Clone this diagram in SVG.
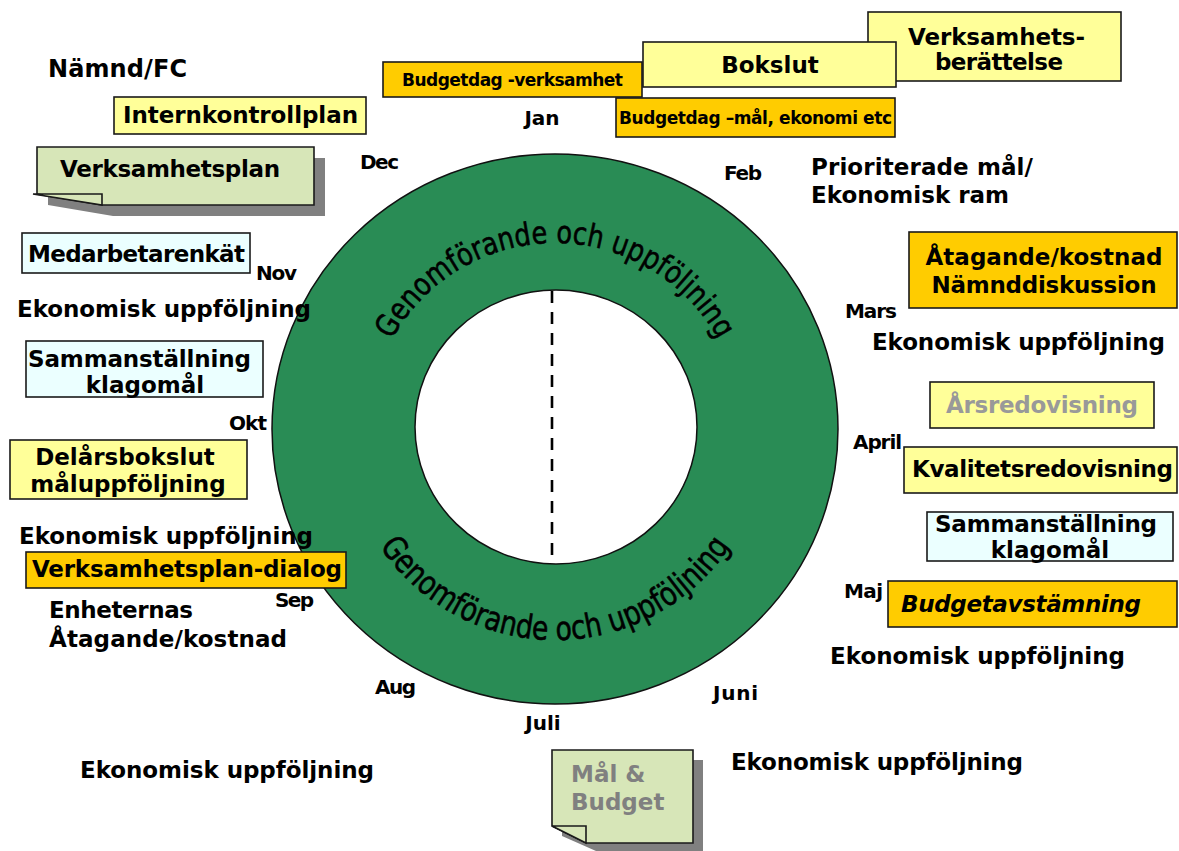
<svg xmlns="http://www.w3.org/2000/svg" xmlns:xlink="http://www.w3.org/1999/xlink" width="1179" height="851" viewBox="0 0 1179 851">
<style>
.t{font-family:"DejaVu Sans",Verdana,"Liberation Sans",sans-serif;font-weight:bold;fill:#000}
.lg{font-size:23px}
.mo{font-size:20px}
.sm{font-size:17px}
.gr{fill:#999999}
.gy{fill:#808080}
.it{font-style:italic}
.or{fill:#FFCC00;stroke:#1a1a1a;stroke-width:1.6}
.ye{fill:#FFFF99;stroke:#1a1a1a;stroke-width:1.6}
.cy{fill:#EBFFFF;stroke:#1a1a1a;stroke-width:1.6}
.gn{fill:#D7E6B8;stroke:#1a1a1a;stroke-width:1.6}
.sh{fill:#808080}
.ring{font-family:"DejaVu Sans",Verdana,sans-serif;font-weight:normal;fill:#000;stroke:#000;stroke-width:0.6}
</style>
<defs>
<path id="arcTop" d="M 369,429 A 186 186 0 0 1 741,429"/>
<path id="arcBot" d="M 344,429 A 211 211 0 0 0 766,429"/>
</defs>
<rect width="1179" height="851" fill="#fff"/>

<g id="ring">
<ellipse cx="555" cy="429" rx="283" ry="275" fill="#298C55" stroke="#111" stroke-width="1.5"/>
<ellipse cx="556" cy="427" rx="141" ry="137" fill="#fff" stroke="#111" stroke-width="1.5"/>
<text class="ring" font-size="31"><textPath xlink:href="#arcTop" startOffset="50%" text-anchor="middle" textLength="398" lengthAdjust="spacingAndGlyphs">Genomförande och uppföljning</textPath></text>
<text class="ring" font-size="33"><textPath xlink:href="#arcBot" startOffset="50%" text-anchor="middle" textLength="414" lengthAdjust="spacingAndGlyphs">Genomförande och uppföljning</textPath></text>
</g>
<g id="connectors">
<line x1="552" y1="291" x2="552" y2="563" stroke="#000" stroke-width="2.6" stroke-dasharray="12 9"/>
</g>

<g id="months" class="t mo">
<text x="542" y="125" text-anchor="middle">Jan</text>
<text x="724" y="180" textLength="38">Feb</text>
<text x="845" y="318" textLength="52">Mars</text>
<text x="853" y="449" textLength="49">April</text>
<text x="844" y="598" textLength="39">Maj</text>
<text x="713" y="700" textLength="45">Juni</text>
<text x="543" y="730" text-anchor="middle">Juli</text>
<text x="375" y="694" textLength="41">Aug</text>
<text x="275" y="607" textLength="39">Sep</text>
<text x="229" y="430" textLength="38">Okt</text>
<text x="256" y="280" textLength="41">Nov</text>
<text x="360" y="169" textLength="39">Dec</text>
</g>

<g id="namnd"><text class="t" font-size="24" x="48" y="77" textLength="139">Nämnd/FC</text></g>

<g id="verksamhetsberattelse">
<rect class="ye" x="868" y="12" width="253" height="69"/>
<text class="t lg" x="908" y="45" textLength="177">Verksamhets-</text>
<text class="t lg" x="935" y="70" textLength="128">berättelse</text>
</g>
<g id="budgetdag-verksamhet">
<rect class="or" x="383" y="62" width="259" height="35"/>
<text class="t sm" x="402" y="86" textLength="221">Budgetdag -verksamhet</text>
</g>
<g id="bokslut">
<rect class="ye" x="643" y="42" width="253" height="45"/>
<text class="t lg" x="770" y="73" text-anchor="middle">Bokslut</text>
</g>
<g id="budgetdag-mal">
<rect class="or" x="616" y="98" width="279" height="39"/>
<text class="t sm" x="619" y="124" textLength="273">Budgetdag –mål, ekonomi etc</text>
</g>

<g id="internkontrollplan">
<rect class="ye" x="114" y="97" width="252" height="37"/>
<text class="t lg" x="123" y="123" textLength="235">Internkontrollplan</text>
</g>

<g id="verksamhetsplan">
<path class="sh" d="M48,158 H325 V216 H113 L48,205 Z"/>
<path class="gn" d="M37,147 H314 V205 H102 L37,194 Z"/>
<path class="gn" d="M33,194 H102 V205 Z"/>
<text class="t lg" x="60" y="177" textLength="220">Verksamhetsplan</text>
</g>

<g id="prioriterade">
<text class="t lg" x="811" y="175" textLength="222">Prioriterade mål/</text>
<text class="t lg" x="811" y="203">Ekonomisk ram</text>
</g>

<g id="medarbetarenkat">
<rect class="cy" x="22" y="233" width="228" height="40"/>
<text class="t lg" x="28" y="262" textLength="217">Medarbetarenkät</text>
</g>

<g id="ekon-nov"><text class="t lg" x="17" y="317" textLength="294">Ekonomisk uppföljning</text></g>

<g id="sammanstallning-vanster">
<rect class="cy" x="26" y="341" width="237" height="56"/>
<text class="t lg" x="28" y="367" textLength="223">Sammanställning</text>
<text class="t lg" x="145" y="393" text-anchor="middle">klagomål</text>
</g>

<g id="delarsbokslut">
<rect class="ye" x="10" y="440" width="237" height="59"/>
<text class="t lg" x="125" y="465" text-anchor="middle">Delårsbokslut</text>
<text class="t lg" x="128" y="492" text-anchor="middle">måluppföljning</text>
</g>

<g id="ekon-sep"><text class="t lg" x="19" y="544" textLength="294">Ekonomisk uppföljning</text></g>

<g id="vp-dialog">
<rect class="or" x="26" y="552" width="320" height="36"/>
<text class="t lg" x="32" y="577" textLength="310">Verksamhetsplan-dialog</text>
</g>

<g id="enheternas">
<text class="t lg" x="49" y="618" textLength="144">Enheternas</text>
<text class="t lg" x="49" y="647" textLength="238">Åtagande/kostnad</text>
</g>

<g id="ekon-aug"><text class="t lg" x="80" y="778" textLength="294">Ekonomisk uppföljning</text></g>

<g id="mal-budget">
<path class="sh" d="M562,760 H703 V851 H596 L562,836 Z"/>
<path class="gn" d="M552,750 H693 V843 H586 L552,826 Z"/>
<path class="gn" d="M552,826 H586 V843 Z"/>
<text class="t lg gy" x="571" y="782">Mål &amp;</text>
<text class="t lg gy" x="571" y="810">Budget</text>
</g>

<g id="ekon-juni"><text class="t lg" x="731" y="770" textLength="292">Ekonomisk uppföljning</text></g>

<g id="atagande">
<rect class="or" x="909" y="232" width="268" height="76"/>
<text class="t lg" x="1044" y="265" text-anchor="middle" textLength="237">Åtagande/kostnad</text>
<text class="t lg" x="1044" y="293" text-anchor="middle" textLength="225">Nämnddiskussion</text>
</g>

<g id="ekon-mars"><text class="t lg" x="872" y="350" textLength="293">Ekonomisk uppföljning</text></g>

<g id="arsredovisning">
<rect class="ye" x="930" y="382" width="224" height="46"/>
<text class="t lg gr" x="946" y="413" textLength="192">Årsredovisning</text>
</g>

<g id="kvalitetsredovisning">
<rect class="ye" x="904" y="447" width="273" height="46"/>
<text class="t lg" x="912" y="477" textLength="261">Kvalitetsredovisning</text>
</g>

<g id="sammanstallning-hoger">
<rect class="cy" x="927" y="512" width="246" height="49"/>
<text class="t lg" x="935" y="532" textLength="222">Sammanställning</text>
<text class="t lg" x="1050" y="558" text-anchor="middle">klagomål</text>
</g>

<g id="budgetavstamning">
<rect class="or" x="888" y="581" width="289" height="46"/>
<text class="t lg it" x="901" y="612" textLength="240">Budgetavstämning</text>
</g>

<g id="ekon-maj"><text class="t lg" x="830" y="664" textLength="295">Ekonomisk uppföljning</text></g>
</svg>
